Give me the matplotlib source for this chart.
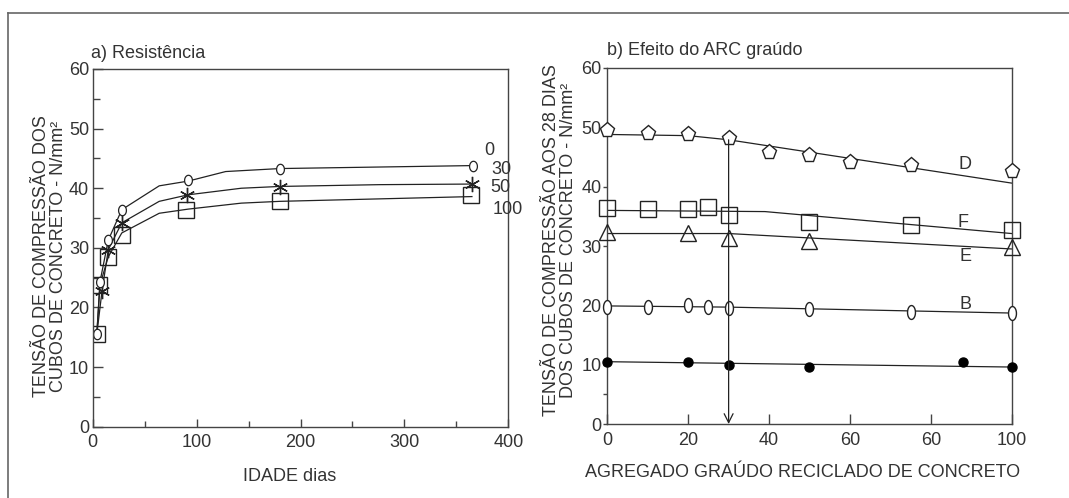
import numpy as np
import matplotlib
matplotlib.use("Agg")
import matplotlib.pyplot as plt
from matplotlib.lines import Line2D
from matplotlib.ticker import MultipleLocator, FixedLocator

plt.rcParams['font.family'] = ['Liberation Sans', 'DejaVu Sans']

# a) Resistência - marcadores (idade em dias, tensão N/mm²)
a_circ_dias = [4, 7, 15, 28, 92, 180, 366]
a_circ_vals = [15.6, 24.3, 31.3, 36.4, 41.4, 43.3, 43.8]
a_star_dias = [9, 15, 28, 91, 180, 365]
a_star_vals = [22.8, 29.7, 34.2, 38.9, 40.2, 40.7]
a_sq_dias = [4, 6, 15, 28, 90, 180, 364]
a_sq_vals = [15.6, 23.8, 28.5, 32.1, 36.4, 37.8, 38.8]

# curvas
a_curva0_dias = [4, 7, 15, 28, 64, 92, 128, 180, 366]
a_curva0_vals = [15.6, 24.3, 31.3, 36.4, 40.4, 41.2, 42.8, 43.3, 43.8]
a_curva30_dias = [4, 9, 15, 28, 64, 92, 143, 180, 276, 365]
a_curva30_vals = [15.6, 22.8, 29.7, 34.2, 37.8, 38.9, 40.0, 40.3, 40.6, 40.7]
a_curva100_dias = [4, 7, 15, 28, 64, 92, 143, 180, 365]
a_curva100_vals = [15.6, 23.8, 28.5, 32.5, 35.8, 36.5, 37.5, 37.8, 38.6]

a_rotulos = ['0', '30', '50', '100']
a_rot_x = [377, 384, 383, 385]
a_rot_y = [46.4, 43.1, 40.1, 36.4]

# b) Efeito do ARC graúdo (% de agregado reciclado, tensão aos 28 dias)
d_x = [0, 10, 20, 30, 40, 50, 60, 75, 100]
d_y = [49.6, 49.0, 48.9, 48.2, 45.9, 45.4, 44.1, 43.7, 42.6]
d_lx = [0, 20, 30, 100]
d_ly = [48.8, 48.6, 47.9, 40.6]

f_x = [0, 10, 20, 25, 30, 50, 75, 100]
f_y = [36.4, 36.2, 36.2, 36.6, 35.3, 34.0, 33.5, 32.7]
f_lx = [0, 39, 100]
f_ly = [36.0, 35.8, 32.1]

e_x = [0, 20, 30, 50, 100]
e_y = [32.4, 32.2, 31.3, 30.8, 29.8]
e_lx = [0, 30, 100]
e_ly = [32.1, 32.1, 29.5]

b_x = [0, 10, 20, 25, 30, 50, 75, 100]
b_y = [19.8, 19.8, 20.0, 19.8, 19.6, 19.3, 18.9, 18.7]
b_lx = [0, 30, 100]
b_ly = [19.9, 19.7, 18.7]

c_x = [0, 20, 30, 50, 88, 100]
c_y = [10.4, 10.4, 9.95, 9.6, 10.5, 9.6]
c_lx = [0, 100]
c_ly = [10.5, 9.6]

b_rotulos = ['D', 'F', 'E', 'B']
b_rot_x = [88.5, 88, 88.5, 88.5]
b_rot_y = [43.7, 34.0, 28.2, 20.2]

b_xticks = [0, 20, 40, 60, 80, 100]
b_xticklabels = ['0', '20', '40', '60', '60', '100']

TXT = '#333333'
LN = '#222222'
SP = '#444444'
FS = 13


def elipse(rx):
    t = np.linspace(0, 2 * np.pi, 40)
    return list(zip(rx * np.cos(t), np.sin(t)))


fig = plt.figure(figsize=(10.69, 4.98), dpi=100)
W, H = 1069, 498

# moldura
fig.add_artist(Line2D([8 / W, 1], [1 - 13 / H] * 2, color='#666666', lw=1.2,
                      transform=fig.transFigure))
fig.add_artist(Line2D([8 / W, 8 / W], [0, 1 - 13 / H], color='#666666', lw=1.2,
                      transform=fig.transFigure))

# ---------- a) ----------
ax1 = fig.add_axes([92.7 / W, 1 - 426.7 / H, 415.6 / W, 357.7 / H])
ax1.plot(a_curva0_dias, a_curva0_vals, color=LN, lw=0.9)
ax1.plot(a_curva30_dias, a_curva30_vals, color=LN, lw=0.9)
ax1.plot(a_curva100_dias, a_curva100_vals, color=LN, lw=0.9)
ax1.plot(a_sq_dias, a_sq_vals, ls='none', marker='s', ms=11, mfc='none',
         mec=LN, mew=1.0)
ax1.plot(a_star_dias, a_star_vals, ls='none', marker=(6, 2, 0), ms=11,
         mec=LN, mew=1.0)
ax1.plot(a_circ_dias, a_circ_vals, ls='none', marker=elipse(0.75), ms=7.5,
         mfc='white', mec=LN, mew=0.9)
for t, x, y in zip(a_rotulos, a_rot_x, a_rot_y):
    ax1.text(x, y, t, fontsize=FS, color=TXT, ha='left', va='center')

ax1.set_xlim(0, 400)
ax1.set_ylim(0, 60)
ax1.xaxis.set_major_locator(MultipleLocator(100))
ax1.xaxis.set_minor_locator(MultipleLocator(50))
ax1.yaxis.set_major_locator(MultipleLocator(10))
ax1.yaxis.set_minor_locator(MultipleLocator(5))
ax1.tick_params(axis='x', which='major', direction='in', length=6, width=1,
                color=SP, pad=5.5, labelsize=FS, labelcolor=TXT, top=False)
ax1.tick_params(axis='x', which='minor', direction='in', length=4, width=1,
                color=SP, top=False)
ax1.tick_params(axis='y', which='major', direction='in', length=7, width=1,
                color=SP, pad=2.5, labelsize=FS, labelcolor=TXT, right=False)
ax1.tick_params(axis='y', which='minor', direction='in', length=5, width=1,
                color=SP, right=False)
for s in ax1.spines.values():
    s.set_color(SP)
    s.set_linewidth(1.0)
ax1.text(-0.005, 1.044, 'a) Resistência', transform=ax1.transAxes,
         fontsize=FS, color=TXT, ha='left', va='center')

fig.text(50 / W, 1 - 256 / H,
         'TENSÃO DE COMPRESSÃO DOS\nCUBOS DE CONCRETO - N/mm²',
         rotation=90, fontsize=FS, color=TXT, ha='center', va='center',
         multialignment='center', linespacing=1.05)
fig.text(290 / W, 1 - 476.7 / H, 'IDADE dias', fontsize=FS, color=TXT,
         ha='center', va='center')

# ---------- b) ----------
ax2 = fig.add_axes([607.3 / W, 1 - 424 / H, 404.4 / W, 356 / H])
for lx, ly in [(d_lx, d_ly), (f_lx, f_ly), (e_lx, e_ly), (b_lx, b_ly), (c_lx, c_ly)]:
    ax2.plot(lx, ly, color=LN, lw=0.9)
ax2.plot(d_x, d_y, ls='none', marker='p', ms=11, mfc='white', mec=LN,
         mew=1.0, clip_on=False, zorder=3)
ax2.plot(f_x, f_y, ls='none', marker='s', ms=11, mfc='none', mec=LN,
         mew=1.0, clip_on=False, zorder=3)
ax2.plot(e_x, e_y, ls='none', marker='^', ms=11, mfc='none', mec=LN,
         mew=1.0, clip_on=False, zorder=3)
ax2.plot(b_x, b_y, ls='none', marker=elipse(0.57), ms=10, mfc='white',
         mec=LN, mew=1.0, clip_on=False, zorder=3)
ax2.plot(c_x, c_y, ls='none', marker='o', ms=6.5, mfc='black', mec='black',
         clip_on=False, zorder=3)
ax2.annotate('', xy=(30, 0), xytext=(30, 47.9),
             arrowprops=dict(arrowstyle='->', color=LN, lw=0.9,
                             mutation_scale=16, shrinkA=0, shrinkB=0))
for t, x, y in zip(b_rotulos, b_rot_x, b_rot_y):
    ax2.text(x, y, t, fontsize=FS, color=TXT, ha='center', va='center')

ax2.set_xlim(0, 100)
ax2.set_ylim(0, 60)
ax2.xaxis.set_major_locator(FixedLocator(b_xticks))
ax2.set_xticklabels(b_xticklabels)
ax2.yaxis.set_major_locator(MultipleLocator(10))
ax2.yaxis.set_minor_locator(FixedLocator([5]))
ax2.tick_params(axis='x', which='major', direction='in', length=7, width=1,
                color=SP, pad=5.5, labelsize=FS, labelcolor=TXT, top=False)
ax2.tick_params(axis='y', which='major', direction='out', length=3, width=1,
                color=SP, pad=1, labelsize=FS, labelcolor=TXT, right=False)
ax2.tick_params(axis='y', which='minor', direction='out', length=3, width=1,
                color=SP, pad=1, right=False)
for s in ax2.spines.values():
    s.set_color(SP)
    s.set_linewidth(1.0)
ax2.text(0.0, 1.05, 'b) Efeito do ARC graúdo', transform=ax2.transAxes,
         fontsize=FS, color=TXT, ha='left', va='center')

fig.text(560 / W, 1 - 240 / H,
         'TENSÃO DE COMPRESSÃO AOS 28 DIAS\nDOS CUBOS DE CONCRETO - N/mm²',
         rotation=90, fontsize=FS, color=TXT, ha='center', va='center',
         multialignment='center', linespacing=1.05)
fig.text(803 / W, 1 - 472.5 / H, 'AGREGADO GRAÚDO RECICLADO DE CONCRETO',
         fontsize=FS, color=TXT, ha='center', va='center')

fig.savefig('out.png', dpi=100)
